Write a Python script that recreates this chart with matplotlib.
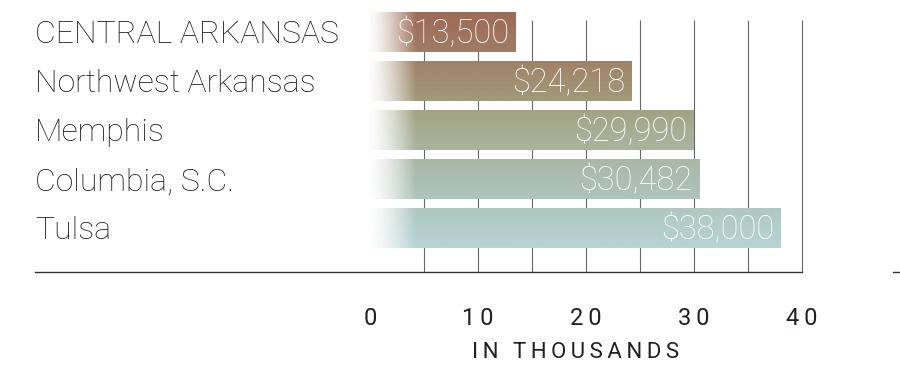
import numpy as np
import matplotlib.pyplot as plt
from matplotlib.colors import LinearSegmentedColormap

plt.rcParams['font.family'] = ['Roboto', 'DejaVu Sans']
plt.rcParams['font.weight'] = 'light'

cities = ['CENTRAL ARKANSAS', 'Northwest Arkansas', 'Memphis', 'Columbia, S.C.', 'Tulsa']
values = [13500, 24218, 29990, 30482, 38000]
ticks = [0, 10, 20, 30, 40]
tick_labels = ['0', '1\u20090', '2\u20090', '3\u20090', '4\u20090']

px = 10.8  # pixels per thousand
x0 = -(370 - 35) / px
x1 = (900 - 370) / px

fig = plt.figure(figsize=(9, 3.8), dpi=100)
ax = fig.add_axes([35 / 900, 108 / 380, 865 / 900, 264 / 380])
ax.set_xlim(x0, x1)
ax.set_ylim(-0.49 + 264 / 49, -0.49)

# grid lines every 5 thousand, behind the bars
grid = np.arange(5, 41, 5)
ax.vlines(grid, -0.25, -0.49 + 264 / 49, color='#666666', lw=0.8, zorder=1)

vals = np.array(values) / 1000
ypos = np.arange(len(cities))
bars = ax.barh(ypos, vals, height=0.82, color='none', zorder=2)

# vertical colour gradient shared by all bars, fade in from the left
cmap = LinearSegmentedColormap.from_list('g', [
    (0.0, '#9e6a58'), (0.2, '#a08066'), (0.37, '#a09a7a'),
    (0.5, '#a7ad93'), (0.7, '#abbdb0'), (1.0, '#b6d4d4')])
ny, nx = 200, 400
gy = np.linspace(0, 1, ny)[:, None]
gx = np.linspace(0, 40, nx)[None, :]
rgba = cmap(np.repeat(gy, nx, axis=1))
ramp = np.clip(gx / 4.2, 0, 1)
rgba[..., 3] = 0.03 + 0.97 * ramp ** 1.4
for b in bars:
    im = ax.imshow(rgba, extent=(0, 40, 4.41, -0.41), aspect='auto',
                   interpolation='bilinear', zorder=3)
    im.set_clip_path(b)

ax.set_xlim(x0, x1)
ax.set_ylim(-0.49 + 264 / 49, -0.49)

for i, v in enumerate(vals):
    ax.text(v - 0.6, i + 0.05, f'${values[i]:,}', ha='right', va='center',
            color='white', fontsize=23.5, zorder=4)
    ax.text(x0, i + 0.06, cities[i], ha='left', va='center', color='#1e1a1b',
            fontsize=23)

for s in ['top', 'left', 'right']:
    ax.spines[s].set_visible(False)
ax.spines['bottom'].set_bounds(x0, 40)
ax.spines['bottom'].set_color('#333333')
ax.spines['bottom'].set_linewidth(1)
ax.plot([(893 - 370) / px, x1], [ax.get_ylim()[0]] * 2, color='#333333', lw=1,
        clip_on=False)

ax.set_yticks([])
ax.set_xticks(ticks)
ax.set_xticklabels(tick_labels, fontsize=17, color='#231f20', fontweight='normal')
ax.tick_params(axis='x', length=0, pad=25)

fig.text(576 / 900, 1 - 352 / 380, '\u2009'.join('IN THOUSANDS'), ha='center',
         va='center', fontsize=16, color='#231f20', fontweight='normal')

fig.savefig('out.png', dpi=100)
